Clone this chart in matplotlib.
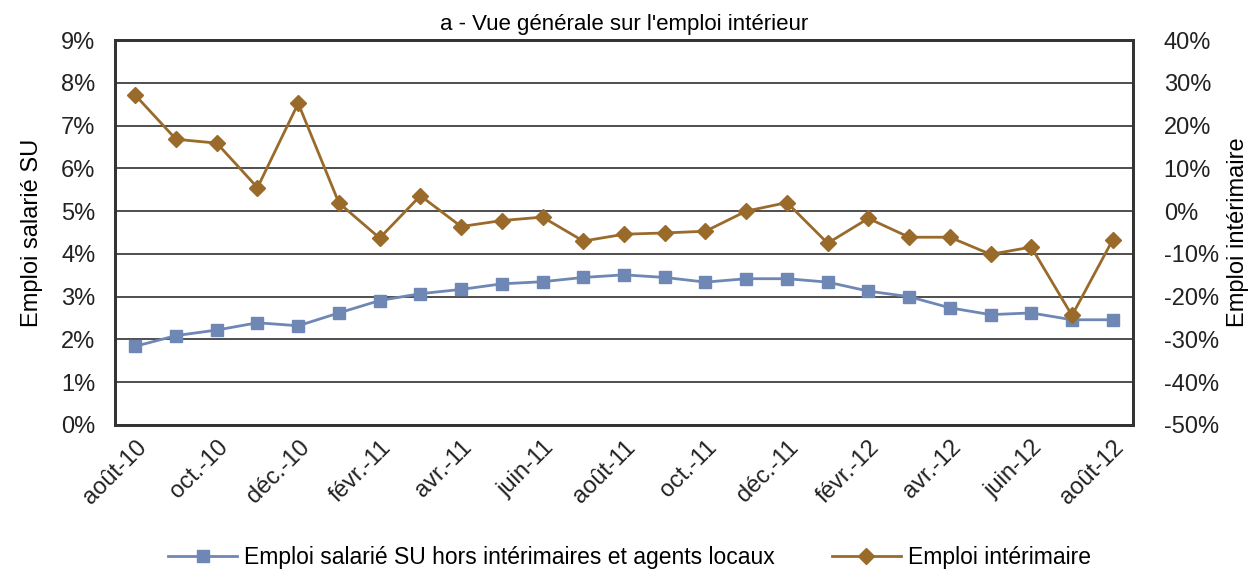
import matplotlib.pyplot as plt
from matplotlib.ticker import FuncFormatter

plt.rcParams['font.family'] = ['Liberation Sans', 'DejaVu Sans']

months = ['août-10', 'sept.-10', 'oct.-10', 'nov.-10', 'déc.-10', 'janv.-11',
          'févr.-11', 'mars-11', 'avr.-11', 'mai-11', 'juin-11', 'juil.-11',
          'août-11', 'sept.-11', 'oct.-11', 'nov.-11', 'déc.-11', 'janv.-12',
          'févr.-12', 'mars-12', 'avr.-12', 'mai-12', 'juin-12', 'juil.-12',
          'août-12']

# Emploi salarié SU hors intérimaires et agents locaux (%, axe gauche)
emploi_su = [1.84, 2.09, 2.22, 2.39, 2.32, 2.62, 2.91, 3.07, 3.17, 3.30,
             3.35, 3.45, 3.51, 3.45, 3.34, 3.42, 3.42, 3.34, 3.13, 3.00,
             2.74, 2.58, 2.62, 2.46, 2.46]

# Emploi intérimaire (%, axe droit)
emploi_interim = [27.1, 16.8, 15.9, 5.5, 25.2, 1.9, -6.3, 3.6, -3.6, -2.2,
                  -1.4, -7.0, -5.4, -5.1, -4.7, 0.0, 2.0, -7.5, -1.7, -6.1,
                  -6.1, -10.1, -8.4, -24.4, -6.7]

blue = '#6e87b4'
brown = '#9a6a2a'

fig = plt.figure(figsize=(12.59, 5.72), dpi=100)
ax1 = fig.add_axes([0.0913, 0.257, 0.8087, 0.673])
ax2 = ax1.twinx()

x = list(range(len(months)))

l1, = ax1.plot(x, emploi_su, color=blue, lw=2, marker='s', ms=8,
               label='Emploi salarié SU hors intérimaires et agents locaux')
l2, = ax2.plot(x, emploi_interim, color=brown, lw=2, marker='D', ms=8,
               label='Emploi intérimaire')

ax1.set_ylim(0, 9)
ax1.set_yticks(range(0, 10))
ax1.yaxis.set_major_formatter(FuncFormatter(lambda v, p: f'{int(v)}%'))
ax2.set_ylim(-50, 40)
ax2.set_yticks(range(-50, 41, 10))
ax2.yaxis.set_major_formatter(FuncFormatter(lambda v, p: f'{int(v)}%'))

ax1.set_xlim(-0.5, len(months) - 0.5)
ax1.set_xticks(x[::2])
ax1.set_xticklabels(months[::2], rotation=45, ha='right',
                    rotation_mode='anchor')

ax1.grid(axis='y', color='#404040', lw=1.3)
ax1.set_axisbelow(True)
for ax in (ax1, ax2):
    ax.tick_params(length=0, labelsize=17, colors='#222222')
    for s in ax.spines.values():
        s.set_linewidth(2)
        s.set_color('#333333')
ax1.tick_params(axis='y', pad=14)
ax2.tick_params(axis='y', pad=22)
ax1.tick_params(axis='x', pad=8)

ax1.set_ylabel('Emploi salarié SU', fontsize=17, labelpad=13)
ax2.set_ylabel('Emploi intérimaire', fontsize=17, rotation=90, labelpad=6)

ax1.set_title('a - Vue générale sur l\'emploi intérieur', fontsize=16, pad=7)

fig.legend(handles=[l1, l2], loc='lower center', ncol=2, frameon=False,
           fontsize=16.5, bbox_to_anchor=(0.5, -0.03), handlelength=3,
           handletextpad=0.3, columnspacing=2.5)

fig.savefig('out.png', dpi=100)
